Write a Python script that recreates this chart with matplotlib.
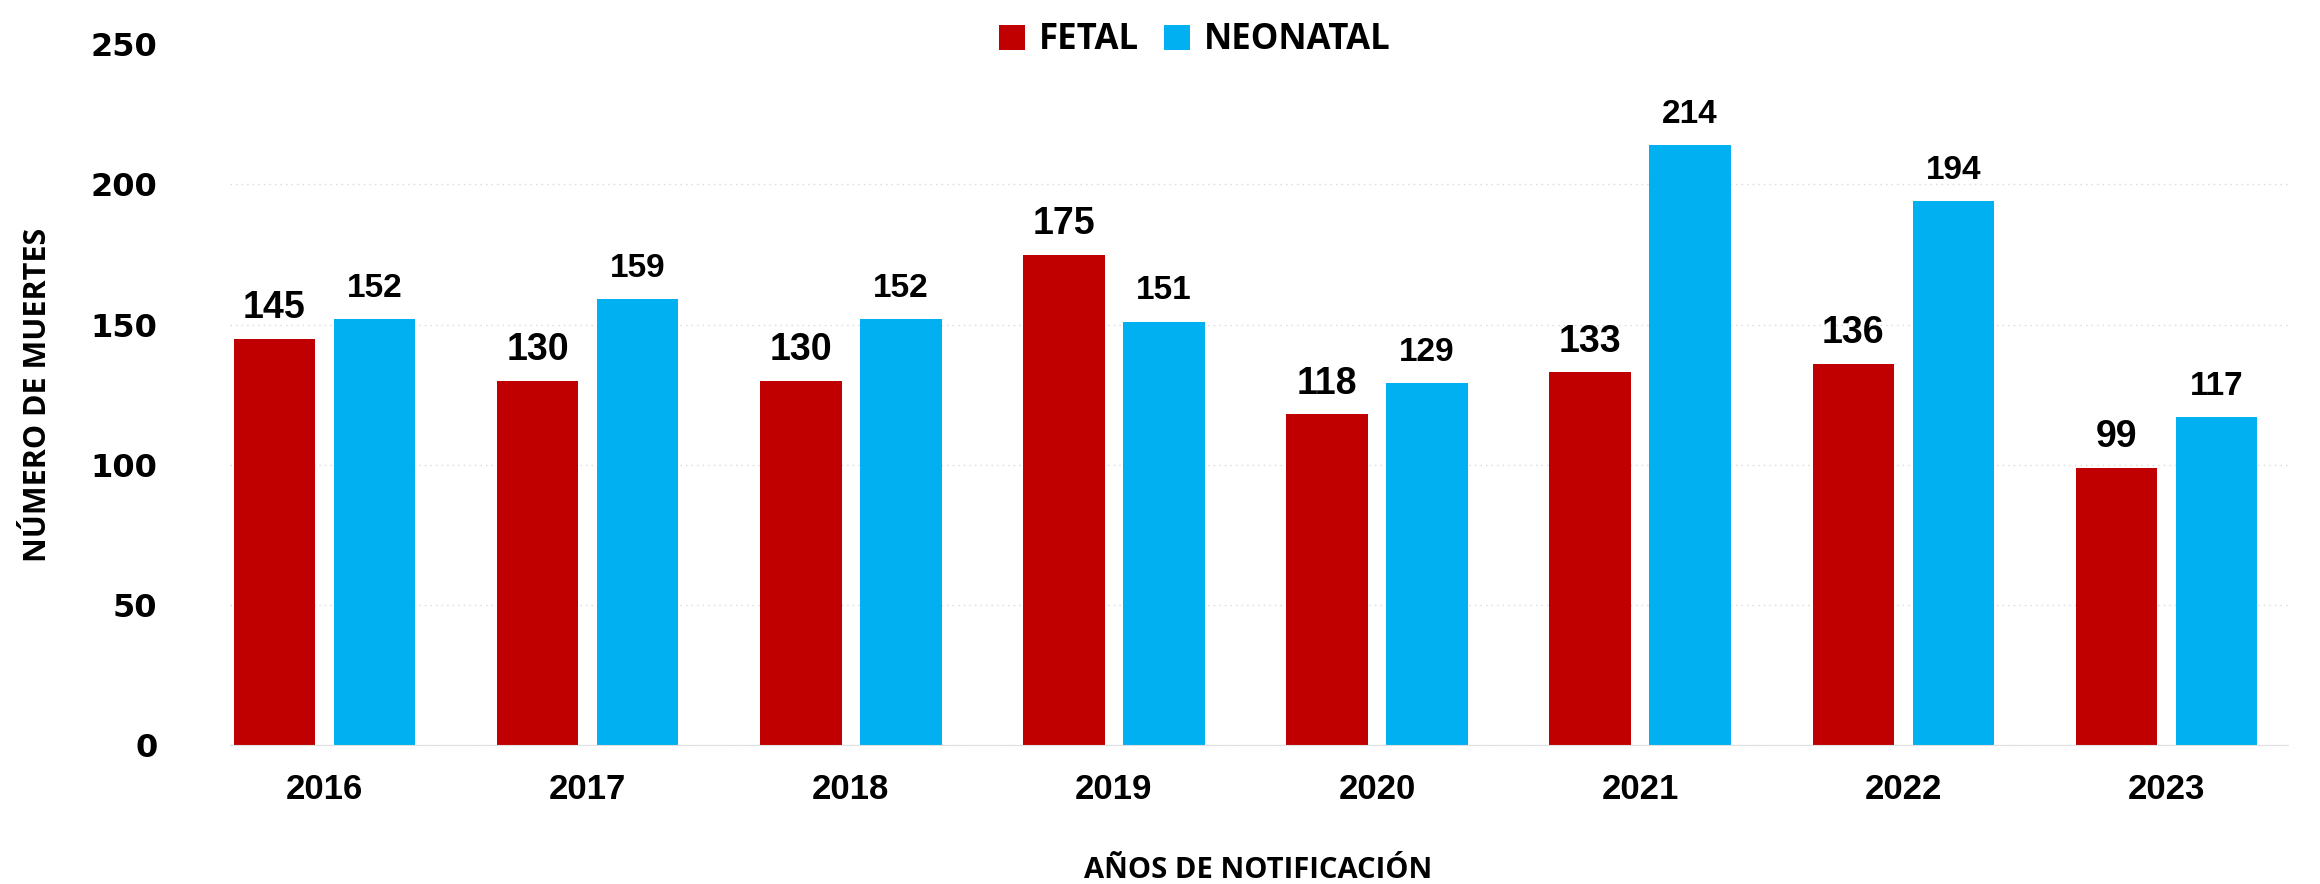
import numpy as np
from matplotlib import pyplot as plt

# datos
years = ['2016', '2017', '2018', '2019', '2020', '2021', '2022', '2023']
fetal = [145, 130, 130, 175, 118, 133, 136, 99]
neonatal = [152, 159, 152, 151, 129, 214, 194, 117]

c_fetal = '#C00000'
c_neo = '#00B0F0'

fig = plt.figure(figsize=(23.2, 8.84), dpi=100)
ax = fig.add_axes([0.099, 0.157, 0.887, 0.793])

x = np.arange(len(years))
w = 0.31
off = 0.19

b1 = ax.bar(x - off, fetal, w, color=c_fetal, label='FETAL')
b2 = ax.bar(x + off, neonatal, w, color=c_neo, label='NEONATAL')

for rect, v in zip(b1, fetal):
    ax.text(rect.get_x() + rect.get_width() / 2, v + 4.5, str(v), ha='center', va='bottom',
            fontsize=27, fontweight='bold', family='Liberation Sans')
for rect, v in zip(b2, neonatal):
    ax.text(rect.get_x() + rect.get_width() / 2, v + 5.5, str(v), ha='center', va='bottom',
            fontsize=24, fontweight='bold', family='Liberation Sans')

ax.set_ylim(0, 250)
ax.set_xlim(-0.36, 7.46)
ax.set_yticks([0, 50, 100, 150, 200, 250])
ax.set_xticks(x)
ax.set_xticklabels(years, fontsize=25, fontweight='bold', family='Liberation Sans')
for lbl in ax.get_yticklabels():
    lbl.set_fontsize(23)
    lbl.set_fontweight('bold')
    lbl.set_family('DejaVu Sans')
ax.tick_params(axis='both', length=0)
ax.tick_params(axis='y', pad=52)
ax.tick_params(axis='x', pad=20)

ax.yaxis.grid(True, color='#d9d9d9', linestyle=(0, (1, 3)), linewidth=1)
ax.set_axisbelow(True)
ax.yaxis.get_gridlines()[-1].set_visible(False)
for s in ['top', 'right', 'left']:
    ax.spines[s].set_visible(False)
ax.spines['bottom'].set_color('#e0e0e0')

ax.set_ylabel('NÚMERO DE MUERTES', fontsize=22, fontweight='bold', family='Open Sans', labelpad=27)
ax.set_xlabel('AÑOS DE NOTIFICACIÓN', fontsize=21, fontweight='bold', family='Open Sans', labelpad=36)

fig.legend(loc='upper center', bbox_to_anchor=(0.515, 1.01), ncol=2, frameon=False,
           prop={'family': 'Open Sans', 'weight': 'bold', 'size': 25},
           handlelength=0.75, handleheight=0.75, handletextpad=0.4, columnspacing=0.7)

fig.savefig('out.png', dpi=100)
